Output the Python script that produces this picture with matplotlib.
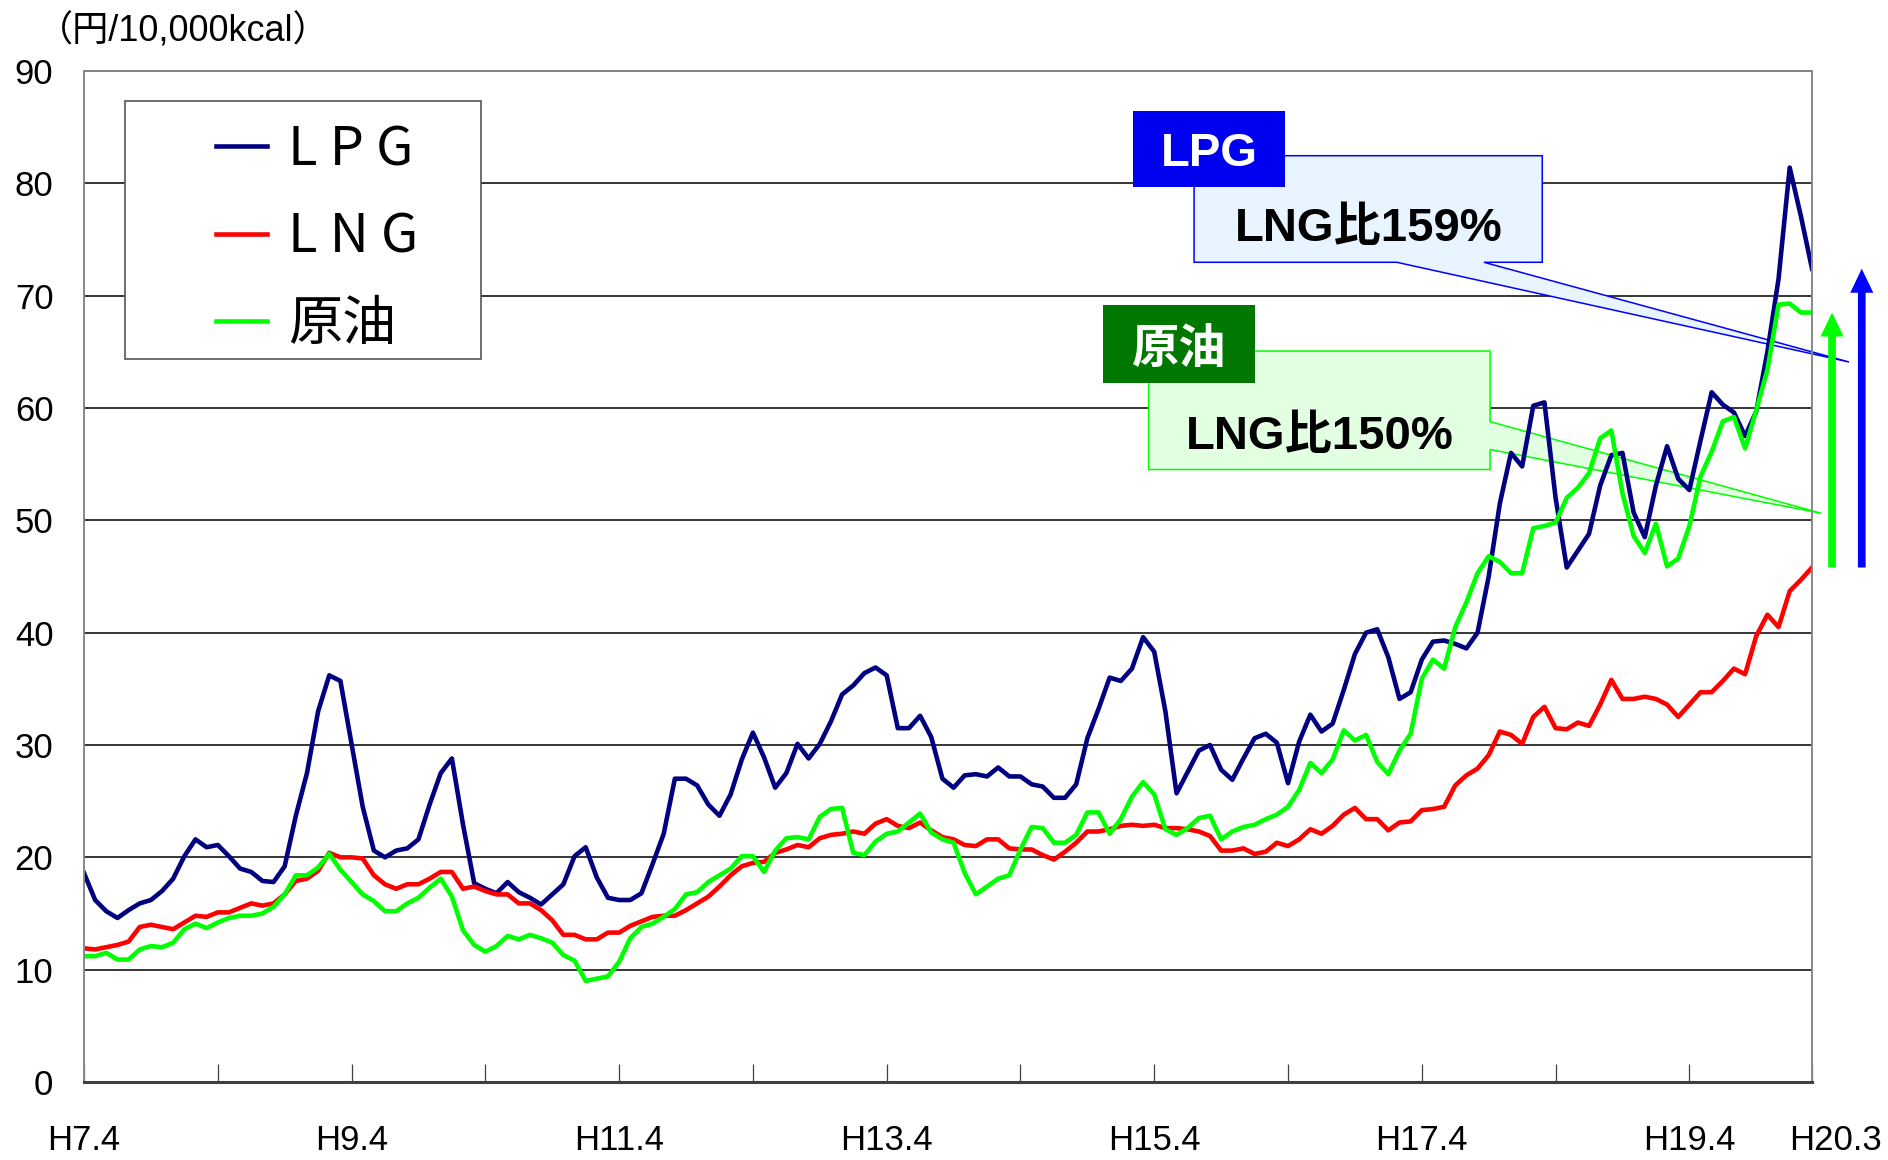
import matplotlib
matplotlib.use("Agg")
import matplotlib.pyplot as plt
import matplotlib.transforms as mtransforms
from matplotlib.patches import Polygon, Rectangle
import numpy as np

plt.rcParams["font.family"] = ["Liberation Sans", "Noto Sans CJK JP"]

# monthly prices, H7.4 .. H20.3 (yen / 10,000kcal)
lpg = [
    18.6, 16.2, 15.2, 14.6, 15.3, 15.9, 16.2, 17.0, 18.1, 20.1, 21.6, 20.9,
    21.1, 20.1, 19.0, 18.7, 17.9, 17.8, 19.2, 23.7, 27.5, 33.0, 36.2, 35.7,
    30.1, 24.5, 20.6, 20.0, 20.6, 20.8, 21.6, 24.7, 27.5, 28.8, 22.9, 17.7,
    17.2, 16.8, 17.8, 16.9, 16.4, 15.8, 16.7, 17.6, 20.1, 20.9, 18.2, 16.4,
    16.2, 16.2, 16.8, 19.4, 22.1, 27.0, 27.0, 26.4, 24.7, 23.7, 25.6, 28.7,
    31.1, 28.9, 26.2, 27.5, 30.1, 28.8, 30.1, 32.1, 34.5, 35.3, 36.4, 36.9,
    36.2, 31.5, 31.5, 32.6, 30.7, 27.0, 26.2, 27.3, 27.4, 27.2, 28.0, 27.2,
    27.2, 26.5, 26.3, 25.3, 25.3, 26.5, 30.6, 33.2, 36.0, 35.7, 36.8, 39.6,
    38.3, 33.0, 25.7, 27.6, 29.5, 30.0, 27.8, 26.9, 28.8, 30.6, 31.0, 30.2,
    26.6, 30.3, 32.7, 31.2, 31.9, 34.9, 38.1, 40.0, 40.3, 37.8, 34.1, 34.7,
    37.6, 39.2, 39.3, 39.0, 38.6, 40.0, 45.0, 51.5, 56.0, 54.8, 60.2, 60.5,
    52.0, 45.8, 47.3, 48.8, 53.1, 55.8, 56.0, 50.7, 48.5, 53.1, 56.6, 53.7,
    52.7, 57.1, 61.4, 60.3, 59.6, 57.5, 59.7, 65.0, 71.5, 81.4, 77.1, 72.4,
]
lng = [
    11.9, 11.8, 12.0, 12.2, 12.5, 13.8, 14.0, 13.8, 13.6, 14.2, 14.8, 14.7,
    15.1, 15.1, 15.5, 15.9, 15.7, 15.9, 16.7, 17.9, 18.1, 18.8, 20.4, 20.0,
    20.0, 19.9, 18.4, 17.6, 17.2, 17.6, 17.6, 18.1, 18.7, 18.7, 17.2, 17.4,
    17.0, 16.7, 16.7, 15.9, 15.9, 15.3, 14.4, 13.1, 13.1, 12.7, 12.7, 13.3,
    13.3, 13.9, 14.3, 14.7, 14.8, 14.8, 15.3, 15.9, 16.5, 17.4, 18.4, 19.2,
    19.5, 19.6, 20.4, 20.7, 21.1, 20.9, 21.7, 22.0, 22.1, 22.3, 22.1, 23.0,
    23.4, 22.8, 22.6, 23.1, 22.4, 21.8, 21.6, 21.1, 21.0, 21.6, 21.6, 20.8,
    20.7, 20.7, 20.2, 19.8, 20.5, 21.3, 22.3, 22.3, 22.5, 22.8, 22.9, 22.8,
    22.9, 22.6, 22.6, 22.5, 22.3, 21.9, 20.6, 20.6, 20.8, 20.3, 20.5, 21.3,
    21.0, 21.6, 22.5, 22.1, 22.8, 23.8, 24.4, 23.4, 23.4, 22.4, 23.1, 23.2,
    24.2, 24.3, 24.5, 26.4, 27.3, 27.9, 29.1, 31.2, 30.9, 30.1, 32.5, 33.4,
    31.5, 31.4, 32.0, 31.7, 33.6, 35.8, 34.1, 34.1, 34.3, 34.1, 33.6, 32.5,
    33.6, 34.7, 34.7, 35.7, 36.8, 36.3, 39.7, 41.6, 40.5, 43.7, 44.7, 45.8,
]
crude = [
    11.2, 11.2, 11.5, 10.9, 10.9, 11.8, 12.1, 12.0, 12.4, 13.6, 14.1, 13.7,
    14.2, 14.6, 14.8, 14.8, 15.0, 15.6, 16.7, 18.4, 18.4, 19.1, 20.3, 18.9,
    17.8, 16.7, 16.1, 15.2, 15.2, 15.9, 16.4, 17.3, 18.1, 16.5, 13.5, 12.2,
    11.6, 12.1, 13.0, 12.7, 13.1, 12.8, 12.4, 11.3, 10.8, 9.0, 9.2, 9.4,
    10.7, 12.8, 13.8, 14.1, 14.7, 15.4, 16.7, 16.9, 17.8, 18.4, 19.0, 20.1,
    20.1, 18.7, 20.6, 21.7, 21.8, 21.6, 23.6, 24.3, 24.4, 20.4, 20.2, 21.4,
    22.1, 22.3, 23.1, 23.9, 22.2, 21.6, 21.3, 18.6, 16.7, 17.4, 18.1, 18.4,
    20.7, 22.7, 22.6, 21.3, 21.3, 22.0, 24.0, 24.0, 22.1, 23.4, 25.4, 26.7,
    25.6, 22.5, 22.0, 22.6, 23.5, 23.7, 21.6, 22.3, 22.7, 22.9, 23.4, 23.8,
    24.5, 26.0, 28.4, 27.5, 28.7, 31.3, 30.4, 30.9, 28.5, 27.4, 29.5, 31.0,
    35.9, 37.6, 36.8, 40.5, 42.7, 45.3, 46.8, 46.3, 45.3, 45.3, 49.3, 49.5,
    49.8, 52.0, 52.9, 54.2, 57.3, 58.0, 52.4, 48.6, 47.1, 49.7, 45.9, 46.6,
    49.5, 53.9, 56.1, 58.8, 59.2, 56.4, 59.8, 63.4, 69.2, 69.3, 68.5, 68.5,
]

series_names = ["L P G", "L N G", "原油"]
series_colors = ["#000080", "#FF0000", "#00FF00"]
x_labels = ["H7.4", "H9.4", "H11.4", "H13.4", "H15.4", "H17.4", "H19.4", "H20.3"]
unit_label = "（円/10,000kcal）"
lpg_ratio_text = "LNG比159%"
crude_ratio_text = "LNG比150%"

W, H = 1888, 1160
fig = plt.figure(figsize=(W / 100, H / 100), dpi=100)
ax = fig.add_axes([84 / W, 78 / H, 1728 / W, 1011 / H])

x = np.arange(len(lpg))
for vals, name, col in zip([lpg, lng, crude], series_names, series_colors):
    ax.plot(x, vals, color=col, lw=3.3, label=name, zorder=2)

ax.set_xlim(0, len(lpg) - 1)
ax.set_ylim(0, 90)
ax.set_yticks(range(0, 91, 10))
ax.yaxis.grid(True, color="black", lw=1.1)
ax.set_axisbelow(True)

label_pos = list(range(0, len(lpg), 24)) + [len(lpg) - 1]
ax.set_xticks(label_pos)
ax.set_xticklabels(x_labels)
ax.set_xticks(np.arange(0, len(lpg), 12), minor=True)
ax.tick_params(axis="x", which="both", direction="in", length=13, width=0.9,
               color="#404040", pad=30, labelsize=25)
ax.tick_params(axis="y", length=0, pad=22, labelsize=25)
last = ax.get_xticklabels()[-1]
last.set_transform(last.get_transform()
                   + mtransforms.ScaledTranslation(0.23, 0, fig.dpi_scale_trans))

for side in ["left", "top", "right"]:
    ax.spines[side].set_color("#888888")
    ax.spines[side].set_linewidth(1.4)
ax.spines["bottom"].set_color("#404040")
ax.spines["bottom"].set_linewidth(2.2)

fig.text(37 / W, 1 - 41.7 / H, unit_label, fontsize=26, ha="left", va="baseline")

# legend with a hand-placed frame
ax.add_patch(Rectangle((0.0237, 0.7151), 0.206, 0.2552, transform=ax.transAxes,
                       facecolor="white", edgecolor="#555555", lw=1.2, zorder=3))
ax.legend(loc="upper left", bbox_to_anchor=(0.0764, 0.9495), frameon=False,
          prop={"family": "Noto Sans CJK JP", "size": 39}, handlelength=0.94,
          handletextpad=0.39, labelspacing=0.6, borderpad=0, borderaxespad=0)


def callout(points, face, edge, label_box, label_face, label, ratio, text_xy,
            label_family):
    ax.add_patch(Polygon(points, closed=True, transform=ax.transAxes, clip_on=False,
                         facecolor=face, edgecolor=edge, lw=1.1, zorder=1.6))
    (bx, by), bw, bh = label_box
    ax.add_patch(Rectangle((bx, by), bw, bh, transform=ax.transAxes, clip_on=False,
                           facecolor=label_face, edgecolor="none", zorder=1.7))
    ax.text(bx + bw / 2, by + bh / 2, label, transform=ax.transAxes, color="white",
            fontsize=34, fontweight="bold", ha="center", va="center_baseline",
            family=label_family, zorder=3)
    ax.text(text_xy[0], text_xy[1], ratio, transform=ax.transAxes, color="black",
            fontsize=34, fontweight="bold", ha="center", va="center_baseline", zorder=3)


callout([(0.6424, 0.9162), (0.8439, 0.9162), (0.8439, 0.8108), (0.8102, 0.8108),
         (1.0214, 0.7122), (0.7597, 0.8108), (0.6424, 0.8108)],
        "#E8F4FF", "#0000FF", ((0.6071, 0.8853), 0.0879, 0.0751), "#0000F0",
        "LPG", lpg_ratio_text, (0.7436, 0.8482), ["Liberation Sans"])
callout([(0.6161, 0.7230), (0.8137, 0.7230), (0.8137, 0.6532), (1.0055, 0.5625),
         (0.8137, 0.6256), (0.8137, 0.6058), (0.6161, 0.6058)],
        "#E2FFE2", "#00FF00", ((0.5897, 0.6914), 0.0877, 0.0771), "#007800",
        "原油", crude_ratio_text, (0.7153, 0.6429), ["Noto Sans CJK JP"])

# arrows from the LNG level up to crude and LPG
arrow = "simple,head_length=0.865,head_width=0.83,tail_width=0.277"
for ax_x, top, col in [(1.0116, crude[-1], "#00FF00"), (1.0288, lpg[-1], "#0000FF")]:
    ax.annotate("", xy=(ax_x, top), xytext=(ax_x, lng[-1]),
                xycoords=("axes fraction", "data"), textcoords=("axes fraction", "data"),
                annotation_clip=False,
                arrowprops=dict(arrowstyle=arrow, mutation_scale=20, fc=col, ec="none",
                                lw=0, shrinkA=0, shrinkB=0))

fig.savefig("out.png", dpi=100)
